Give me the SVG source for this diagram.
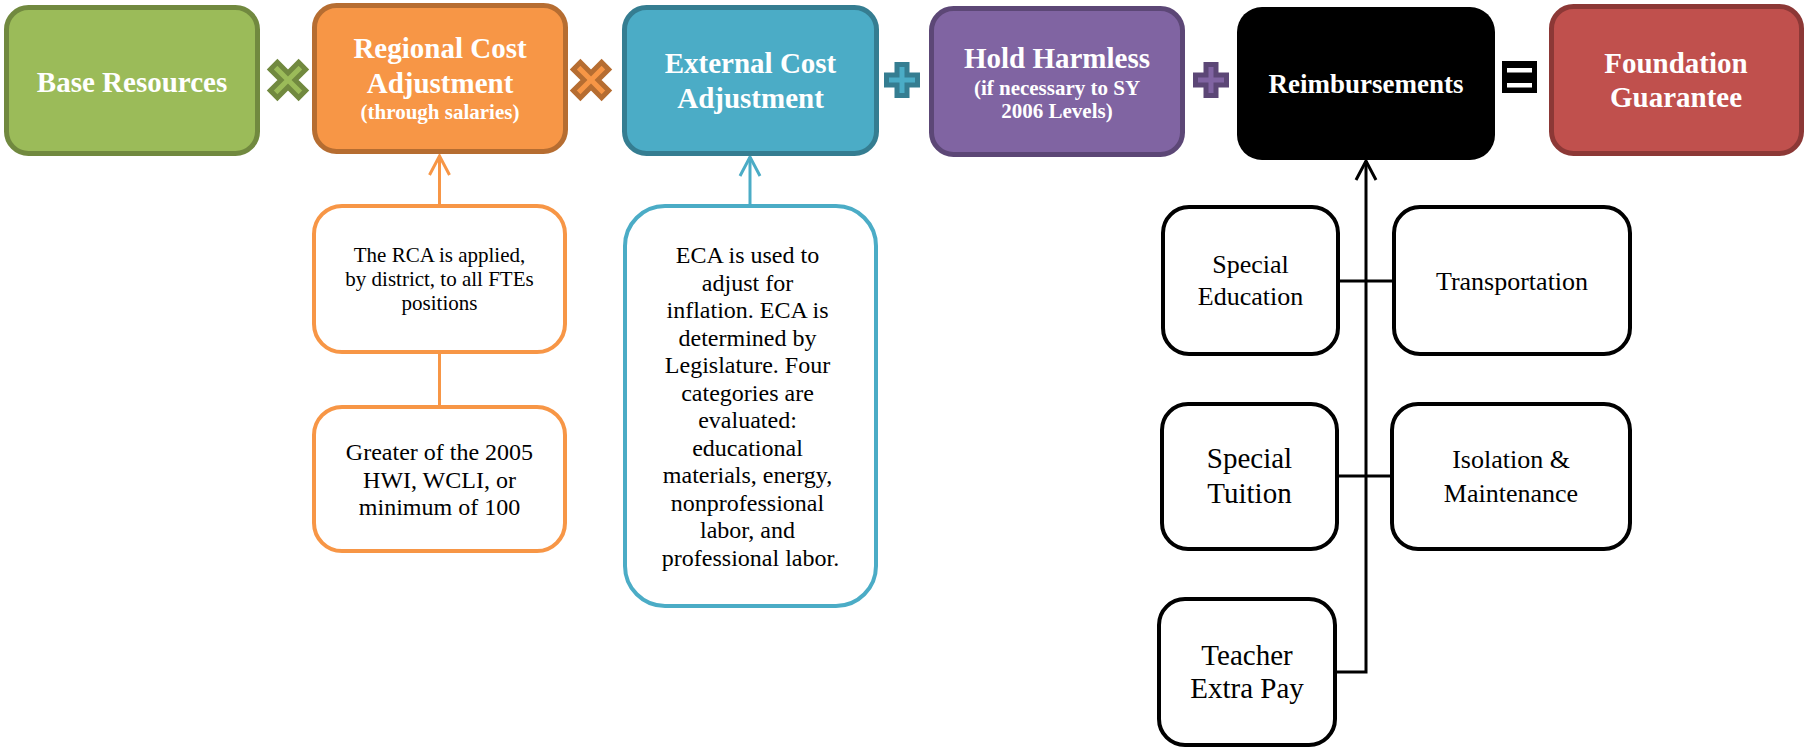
<svg xmlns="http://www.w3.org/2000/svg" width="1805" height="749" viewBox="0 0 1805 749">
<style>
  .t { font-family: "Liberation Serif", "Times New Roman", serif; text-anchor: middle; }
  .hb { font-weight: bold; font-size: 29px; fill: #ffffff; }
  .hs { font-weight: bold; font-size: 21px; fill: #ffffff; }
  .top { stroke-width: 5; }
  .sub { fill: #ffffff; stroke-width: 4; }
  .conn { fill: none; stroke-width: 3; }
  .op { stroke-width: 5; stroke-linejoin: miter; }
</style>
<defs>
  <marker id="arrO" viewBox="-22 -12 25 24" refX="0" refY="0" markerWidth="25" markerHeight="24" markerUnits="userSpaceOnUse" orient="auto">
    <path d="M-19,-10 L0,0 L-19,10" fill="none" stroke="#F79646" stroke-width="3"/>
  </marker>
  <marker id="arrT" viewBox="-22 -12 25 24" refX="0" refY="0" markerWidth="25" markerHeight="24" markerUnits="userSpaceOnUse" orient="auto">
    <path d="M-19,-10 L0,0 L-19,10" fill="none" stroke="#4BACC6" stroke-width="3"/>
  </marker>
  <marker id="arrK" viewBox="-22 -12 25 24" refX="0" refY="0" markerWidth="25" markerHeight="24" markerUnits="userSpaceOnUse" orient="auto">
    <path d="M-19,-10 L0,0 L-19,10" fill="none" stroke="#000000" stroke-width="3"/>
  </marker>
  <path id="plus" d="M-5,-15.5 L5,-15.5 L5,-5 L15.5,-5 L15.5,5 L5,5 L5,15.5 L-5,15.5 L-5,5 L-15.5,5 L-15.5,-5 L-5,-5 Z"/>
  <path id="cross" d="M-5,-20 L5,-20 L5,-5 L20,-5 L20,5 L5,5 L5,20 L-5,20 L-5,5 L-20,5 L-20,-5 L-5,-5 Z" transform="rotate(45)"/>
</defs>

<g id="connectors">
  <line class="conn" x1="439.5" y1="204" x2="439.5" y2="156" stroke="#F79646" marker-end="url(#arrO)"/>
  <line class="conn" x1="439.5" y1="354" x2="439.5" y2="406" stroke="#F79646"/>
  <line class="conn" x1="750" y1="204" x2="750" y2="157" stroke="#4BACC6" marker-end="url(#arrT)"/>
  <polyline class="conn" points="1337,672 1366,672 1366,161" stroke="#000000" marker-end="url(#arrK)"/>
  <line class="conn" x1="1340" y1="281" x2="1392" y2="281" stroke="#000000"/>
  <line class="conn" x1="1339" y1="476" x2="1390" y2="476" stroke="#000000"/>
</g>

<g id="op-times-1"><use href="#cross" x="288" y="80" class="op" fill="#9BBB59" stroke="#71893F"/></g>
<g id="op-times-2"><use href="#cross" x="591" y="80" class="op" fill="#F79646" stroke="#B66D31"/></g>
<g id="op-plus-1"><use href="#plus" x="902" y="80" class="op" fill="#4BACC6" stroke="#357D91"/></g>
<g id="op-plus-2"><use href="#plus" x="1211" y="80" class="op" fill="#8064A2" stroke="#5C4776"/></g>
<g id="op-equals">
  <rect x="1502" y="61" width="35" height="32" fill="#000000"/>
  <rect x="1507" y="68" width="25" height="4.5" fill="#ffffff"/>
  <rect x="1507" y="83" width="25" height="4.5" fill="#ffffff"/>
</g>

<g id="base-resources">
  <rect class="top" x="6.5" y="7.5" width="251" height="146" rx="22" fill="#9BBB59" stroke="#71893F"/>
  <text class="t hb" x="132" y="92">Base Resources</text>
</g>
<g id="regional-cost">
  <rect class="top" x="314.5" y="5.5" width="251" height="146" rx="22" fill="#F79646" stroke="#B66D31"/>
  <text class="t hb" x="440" y="58">Regional Cost</text>
  <text class="t hb" x="440" y="93">Adjustment</text>
  <text class="t hs" x="440" y="119">(through salaries)</text>
</g>
<g id="external-cost">
  <rect class="top" x="624.5" y="7.5" width="252" height="146" rx="22" fill="#4BACC6" stroke="#357D91"/>
  <text class="t hb" x="750.5" y="73">External Cost</text>
  <text class="t hb" x="750.5" y="108">Adjustment</text>
</g>
<g id="hold-harmless">
  <rect class="top" x="931.5" y="8.5" width="251" height="146" rx="22" fill="#8064A2" stroke="#5C4776"/>
  <text class="t hb" x="1057" y="68">Hold Harmless</text>
  <text class="t hs" x="1057" y="95">(if necessary to SY</text>
  <text class="t hs" x="1057" y="118">2006 Levels)</text>
</g>
<g id="reimbursements">
  <rect x="1237" y="7" width="258" height="153" rx="25" fill="#000000"/>
  <text class="t" x="1366" y="93" font-weight="bold" font-size="27" fill="#ffffff">Reimbursements</text>
</g>
<g id="foundation-guarantee">
  <rect class="top" x="1551.5" y="6.5" width="250" height="147" rx="22" fill="#C0504D" stroke="#8C3836"/>
  <text class="t hb" x="1676" y="73">Foundation</text>
  <text class="t hb" x="1676" y="107">Guarantee</text>
</g>

<g id="rca-note">
  <rect class="sub" x="314" y="206" width="251" height="146" rx="28" stroke="#F79646"/>
  <text class="t" font-size="21" fill="#000000"><tspan x="439.5" y="262">The RCA is applied,</tspan><tspan x="439.5" y="286">by district, to all FTEs</tspan><tspan x="439.5" y="310">positions</tspan></text>
</g>
<g id="greater-of">
  <rect class="sub" x="314" y="407" width="251" height="144" rx="28" stroke="#F79646"/>
  <text class="t" font-size="24" fill="#000000"><tspan x="439.5" y="460">Greater of the 2005</tspan><tspan x="439.5" y="487.5">HWI, WCLI, or</tspan><tspan x="439.5" y="515">minimum of 100</tspan></text>
</g>
<g id="eca-note">
  <rect class="sub" x="625" y="206" width="251" height="400" rx="40" stroke="#4BACC6"/>
  <text class="t" font-size="24" fill="#000000">
    <tspan x="750.5" y="263">ECA is used to</tspan>
    <tspan x="750.5" y="290.5">adjust for</tspan>
    <tspan x="750.5" y="318">inflation. ECA is</tspan>
    <tspan x="750.5" y="345.5">determined by</tspan>
    <tspan x="750.5" y="373">Legislature. Four</tspan>
    <tspan x="750.5" y="400.5">categories are</tspan>
    <tspan x="750.5" y="428">evaluated:</tspan>
    <tspan x="750.5" y="455.5">educational</tspan>
    <tspan x="750.5" y="483">materials, energy,</tspan>
    <tspan x="750.5" y="510.5">nonprofessional</tspan>
    <tspan x="750.5" y="538">labor, and</tspan>
    <tspan x="750.5" y="565.5">professional labor.</tspan>
  </text>
</g>
<g id="special-education">
  <rect class="sub" x="1163" y="207" width="175" height="147" rx="26" stroke="#000000"/>
  <text class="t" font-size="26" fill="#000000"><tspan x="1250.5" y="273">Special</tspan><tspan x="1250.5" y="305">Education</tspan></text>
</g>
<g id="transportation">
  <rect class="sub" x="1394" y="207" width="236" height="147" rx="26" stroke="#000000"/>
  <text class="t" font-size="26" fill="#000000" x="1512" y="290">Transportation</text>
</g>
<g id="special-tuition">
  <rect class="sub" x="1162" y="404" width="175" height="145" rx="26" stroke="#000000"/>
  <text class="t" font-size="29" fill="#000000"><tspan x="1249.5" y="468">Special</tspan><tspan x="1249.5" y="503">Tuition</tspan></text>
</g>
<g id="isolation-maintenance">
  <rect class="sub" x="1392" y="404" width="238" height="145" rx="26" stroke="#000000"/>
  <text class="t" font-size="26" fill="#000000"><tspan x="1511" y="468">Isolation &amp;</tspan><tspan x="1511" y="502">Maintenance</tspan></text>
</g>
<g id="teacher-extra-pay">
  <rect class="sub" x="1159" y="599" width="176" height="146" rx="26" stroke="#000000"/>
  <text class="t" font-size="29" fill="#000000"><tspan x="1247" y="665">Teacher</tspan><tspan x="1247" y="698">Extra Pay</tspan></text>
</g>
</svg>
